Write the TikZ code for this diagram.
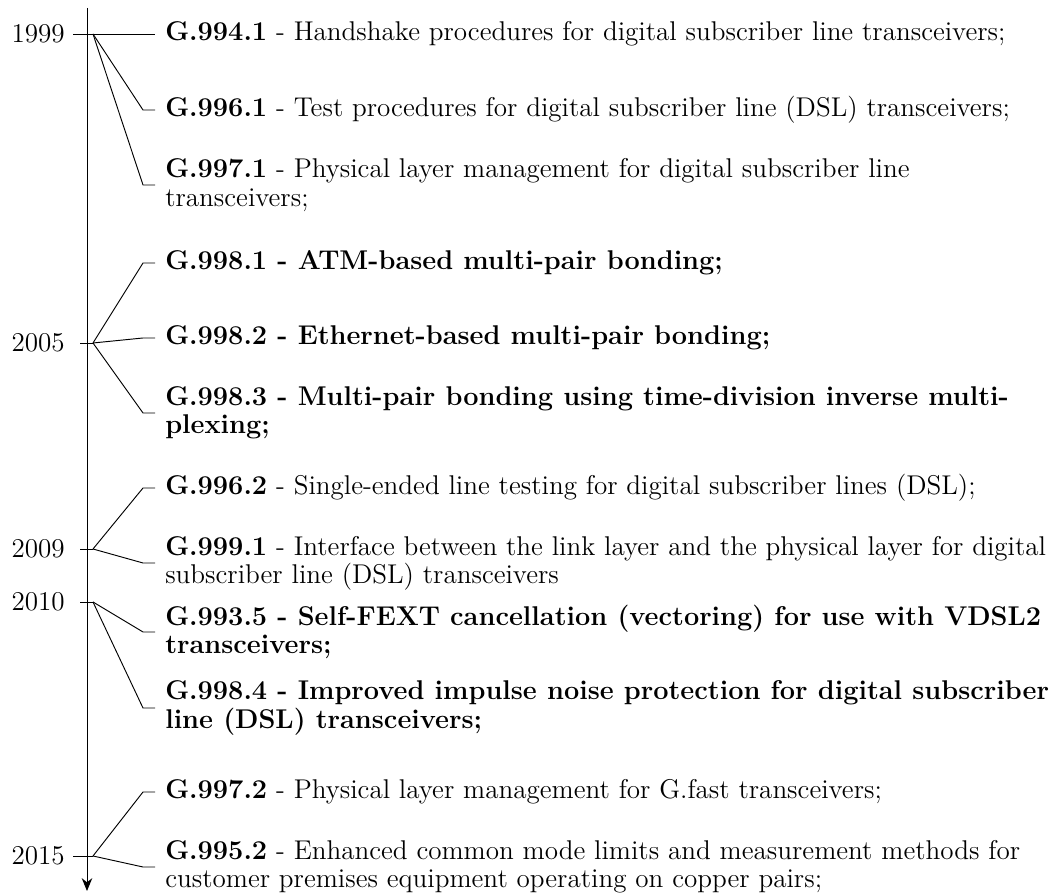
\documentclass[tikz,border=0pt]{standalone}
\usetikzlibrary{calc,arrows.meta}
\begin{document}
\begin{tikzpicture}[x=0.4286pt,y=-0.4286pt,
  every node/.style={font=\fontsize{11.62}{12.1}\selectfont},
  entry/.style={anchor=west,align=left,inner xsep=4.2pt,inner ysep=3.33pt},
  yearlab/.style={anchor=east,inner sep=3.33pt},
  conn/.style={line width=0.4pt},
  axisline/.style={line width=0.4pt,-{Stealth[length=5.5pt,width=4.5pt]}}]
\useasboundingbox (0,0) rectangle (1052,893);
% axis
\coordinate (top) at (87,8);
\coordinate (bot) at (87,891);
\draw[axisline] (top) -- (bot);
% years
\node[yearlab] (y1999) at (73,34) {1999};
\node[yearlab] (y2005) at (73,343) {2005};
\node[yearlab] (y2009) at (73,549) {2009};
\node[yearlab] (y2010) at (73,602) {2010};
\node[yearlab] (y2015) at (73,856) {2015};
% ticks
\coordinate (t1999) at (93,34);
\coordinate (t2005) at (93,343);
\coordinate (t2009) at (93,549);
\coordinate (t2010) at (93,602);
\coordinate (t2015) at (93,856);
\draw[conn] (73,34) -- (t1999);
\draw[conn] (80,343) -- (t2005);
\draw[conn] (80,549) -- (t2009);
\draw[conn] (80,602) -- (t2010);
\draw[conn] (73,856) -- (t2015);
% entries
\node[entry] (e1) at (155,34) {\textbf{G.994.1} - Handshake procedures for digital subscriber line transceivers;};
\node[entry] (e2) at (155,110) {\textbf{G.996.1} - Test procedures for digital subscriber line (DSL) transceivers;};
\node[entry] (e3) at (155,185) {\textbf{G.997.1} - Physical layer management for digital subscriber line\\transceivers;};
\node[entry] (e4) at (155,263) {\textbf{G.998.1 - ATM-based multi-pair bonding;}};
\node[entry] (e5) at (155,338) {\textbf{G.998.2 - Ethernet-based multi-pair bonding;}};
\node[entry] (e6) at (155,413) {\textbf{G.998.3 - Multi-pair bonding using time-division inverse multi-}\\\textbf{plexing;}};
\node[entry] (e7) at (155,488) {\textbf{G.996.2} - Single-ended line testing for digital subscriber lines (DSL);};
\node[entry] (e8) at (155,563) {\textbf{G.999.1} - Interface between the link layer and the physical layer for digital\\subscriber line (DSL) transceivers};
\node[entry] (e9) at (155,632) {\textbf{G.993.5 - Self-FEXT cancellation (vectoring) for use with VDSL2}\\\textbf{transceivers;}};
\node[entry] (e10) at (155,708) {\textbf{G.998.4 - Improved impulse noise protection for digital subscriber}\\\textbf{line (DSL) transceivers;}};
\node[entry] (e11) at (155,792) {\textbf{G.997.2} - Physical layer management for G.fast transceivers;};
\node[entry] (e12) at (155,867) {\textbf{G.995.2} - Enhanced common mode limits and measurement methods for\\customer premises equipment operating on copper pairs;};
% connectors
\draw[conn] (t1999) -- (e1.west);
\foreach \t/\e in {t1999/e2,t1999/e3,t2005/e4,t2005/e5,t2005/e6,t2009/e7,t2009/e8,t2010/e9,t2010/e10,t2015/e11,t2015/e12}{
  \draw[conn] (\t) -- ($(\e.west)+(-12,0)$) -- (\e.west);
}
\end{tikzpicture}
\end{document}
